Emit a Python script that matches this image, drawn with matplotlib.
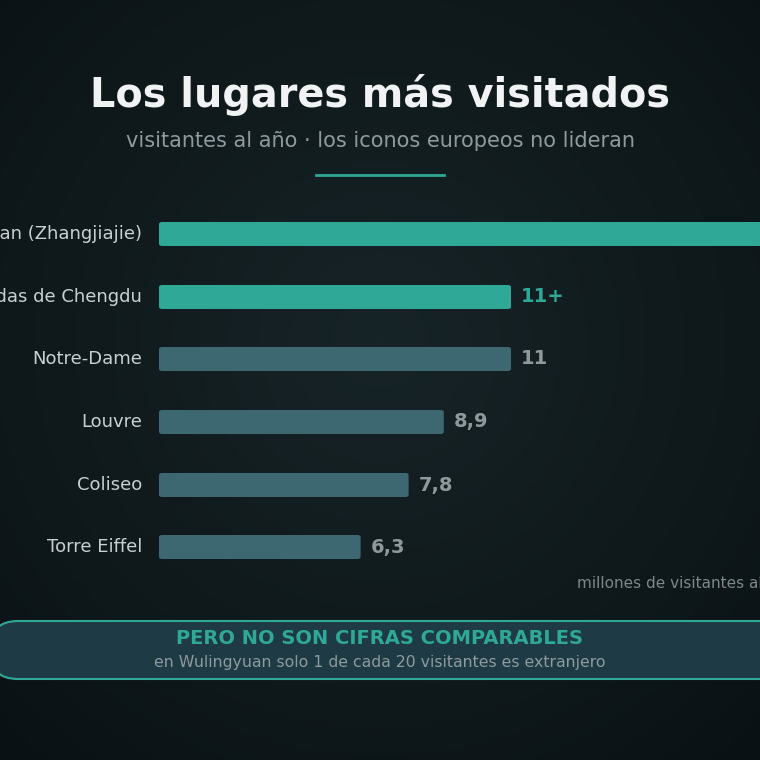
import numpy as np
import matplotlib.pyplot as plt
from matplotlib.patches import FancyBboxPatch

# data
places = ["Wulingyuan (Zhangjiajie)", "Base de Pandas de Chengdu", "Notre-Dame",
          "Louvre", "Coliseo", "Torre Eiffel"]
values = [30, 11, 11, 8.9, 7.8, 6.3]
value_labels = ["30", "11+", "11", "8,9", "7,8", "6,3"]
highlight = [True, True, False, False, False, False]

fig = plt.figure(figsize=(7.6, 7.6), dpi=100)

# background gradient
bg = fig.add_axes([0, 0, 1, 1])
yy, xx = np.mgrid[0:1:200j, 0:1:200j]
r = np.sqrt((xx - 0.5) ** 2 + (yy - 0.45) ** 2)
bg.imshow(-r, cmap=plt.matplotlib.colors.LinearSegmentedColormap.from_list(
    "bg", ["#0a1114", "#172427"]), extent=[0, 760, 760, 0], aspect="auto")
bg.set_xlim(0, 760)
bg.set_ylim(760, 0)
bg.axis("off")

fig.text(380 / 760, 1 - 95 / 760, "Los lugares más visitados", ha="center", va="center",
         fontsize=28.6, fontweight="bold", color="#f0f2f3")
fig.text(380 / 760, 1 - 141 / 760, "visitantes al año · los iconos europeos no lideran",
         ha="center", va="center", fontsize=15, color="#8e9a9e")
bg.plot([316, 444], [175, 175], color="#2fa898", lw=2)

# bars
ax = fig.add_axes([159 / 760, 0, 601 / 760, 1])
ax.set_xlim(0, 601 / 32)
ax.set_ylim(760, 0)
ax.axis("off")
ys = [234, 297, 359, 422, 485, 547]
for y, name, v, lab, h in zip(ys, places, values, value_labels, highlight):
    c = "#2fa898" if h else "#3d6872"
    ax.add_patch(FancyBboxPatch((0, y - 12), v, 24, boxstyle="round,pad=0,rounding_size=0.1",
                                mutation_aspect=20, fc=c, ec="none"))
    ax.text(-17 / 32, y, name, ha="right", va="center", fontsize=13, color="#c9d0d2",
            clip_on=False)
    ax.text(v + 10 / 32, y, lab, ha="left", va="center", fontsize=14, fontweight="bold",
            color="#2fa898" if h else "#8f999c", clip_on=False)

fig.text(577 / 760, 1 - 584 / 760, "millones de visitantes al año", ha="left", va="center",
         fontsize=11, color="#7d888b")

bg.add_patch(FancyBboxPatch((-10, 621), 800, 58, boxstyle="round,pad=0,rounding_size=28",
                            fc="#1e3a44", ec="#2fa898", lw=1.5))
bg.text(380, 638, "PERO NO SON CIFRAS COMPARABLES", ha="center", va="center",
        fontsize=14, fontweight="bold", color="#2fa898")
bg.text(380, 662, "en Wulingyuan solo 1 de cada 20 visitantes es extranjero", ha="center",
        va="center", fontsize=11.3, color="#8e9a9e")

fig.savefig("out.png", dpi=100)
